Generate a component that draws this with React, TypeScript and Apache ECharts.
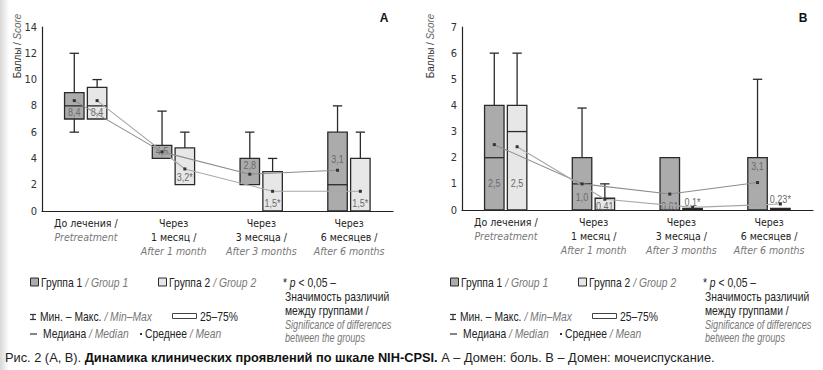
import React, { useEffect, useRef } from "react";
import * as echarts from "echarts";

// ---------- DATA ----------
const categoryRu: string[][] = [["До лечения /"], ["Через", "1 месяц /"], ["Через", "3 месяца /"], ["Через", "6 месяцев /"]];
const categoryEn: string[] = ["Pretreatment", "After 1 month", "After 3 months", "After 6 months"];

const ticksA: number[] = [0, 2, 4, 6, 8, 10, 12, 14];
const ticksB: number[] = [0, 1, 2, 3, 4, 5, 6, 7];

// [min, q1, median, q3, max]
const boxA_G1: number[][] = [[6, 7, 8, 9, 12], [4, 4, 4, 5, 7.6], [2, 2, 2, 4, 6], [0, 0, 2, 6, 8]];
const boxA_G2: number[][] = [[7, 7, 8, 9.4, 10], [2, 2, 2, 4.8, 6], [0, 0, 0, 3, 4], [0, 0, 0, 4, 6]];
const boxB_G1: number[][] = [[0, 0, 2, 4, 6], [0, 0, 1, 2, 3.9], [0, 0, 0, 2, 2], [0, 0, 0, 2, 5]];
const boxB_G2: number[][] = [[0, 0, 3, 4, 6], [0, 0, 0, 0.45, 1], [0, 0, 0, 0.06, 0.06], [0, 0, 0, 0.06, 0.06]];

const meanA_G1: number[] = [8.4, 4.5, 2.8, 3.1];
const meanA_G2: number[] = [8.4, 3.2, 1.5, 1.5];
const meanB_G1: number[] = [2.5, 1.0, 0.61, 1.05];
const meanB_G2: number[] = [2.42, 0.41, 0.1, 0.23];

const labelA_G1: string[] = ["8,4", "4,5", "2,8", "3,1"];
const labelA_G2: string[] = ["8,4", "3,2*", "1,5*", "1,5*"];
const labelB_G1: string[] = ["2,5", "1,0", "0,61", "3,1"];
const labelB_G2: string[] = ["2,5", "0,41", "0,1*", "0,23*"];

// where each value label sits (in score units)
const anchorA_G1: number[] = [7.5, 4.55, 3.45, 3.95];
const anchorA_G2: number[] = [7.5, 2.6, 0.6, 0.6];
const anchorB_G1: number[] = [1.03, 0.5, 0.15, 1.67];
const anchorB_G2: number[] = [1.03, 0.15, 0.3, 0.42];

// ---------- STYLE ----------
const COND = '"DejaVu Sans Condensed", "Liberation Sans Narrow", Arial, sans-serif';
const REG = '"Liberation Sans", Arial, sans-serif';
const NARROW_SCALE = 0.86;
const FILL_G1 = "#ababab";
const FILL_G2 = "#e7e7e7";
const EDGE = "#2a2a2a";
const OFF1 = -0.132;
const OFF2 = 0.128;
const BOX_W = 0.222;

function boxRender(labels: string[], anchors: number[], fill: string) {
  return (params: any, api: any) => {
    const x = api.value(0);
    const mn = api.value(1), q1 = api.value(2), md = api.value(3), q3 = api.value(4), mx = api.value(5);
    const idx = params.dataIndex;
    const c = api.coord([x, mn]);
    const cx = c[0];
    const yMin = c[1];
    const yQ1 = api.coord([x, q1])[1];
    const yMd = api.coord([x, md])[1];
    const yQ3 = api.coord([x, q3])[1];
    const yMax = api.coord([x, mx])[1];
    const w = api.size([BOX_W, 0])[0];
    const cap = w * 0.24;
    const ls = { stroke: EDGE, lineWidth: 1.3 };
    const children: any[] = [];
    if (mx > q3) {
      children.push({ type: "line", shape: { x1: cx, y1: yQ3, x2: cx, y2: yMax }, style: ls });
      children.push({ type: "line", shape: { x1: cx - cap, y1: yMax, x2: cx + cap, y2: yMax }, style: ls });
    }
    if (mn < q1) {
      children.push({ type: "line", shape: { x1: cx, y1: yQ1, x2: cx, y2: yMin }, style: ls });
      children.push({ type: "line", shape: { x1: cx - cap, y1: yMin, x2: cx + cap, y2: yMin }, style: ls });
    }
    const h = yQ1 - yQ3;
    children.push({
      type: "rect",
      shape: { x: cx - w / 2, y: yQ3, width: w, height: h },
      style: { fill: h < 3 ? "#111" : fill, stroke: EDGE, lineWidth: 1.3 },
    });
    if (md > q1 && md < q3) {
      children.push({ type: "line", shape: { x1: cx - w / 2, y1: yMd, x2: cx + w / 2, y2: yMd }, style: ls });
    }
    const ya = api.coord([x, anchors[idx]])[1];
    children.push({
      type: "text",
      x: cx,
      y: ya,
      scaleX: NARROW_SCALE,
      style: {
        text: labels[idx],
        fill: "#6a6a6a",
        fontSize: 10.5,
        fontFamily: REG,
        align: "center",
        verticalAlign: "middle",
        textAlign: "center",
        textVerticalAlign: "middle",
      },
      z2: 10,
    });
    return { type: "group", children };
  };
}

function catFormatter(_v: string, i: number) {
  const ru = categoryRu[i].map((s) => `{a|${s}}`).join("\n");
  return `${ru}\n{b|${categoryEn[i]}}`;
}

function legend(ox: number) {
  const rich = {
    a: { fontSize: 12, fontFamily: REG, fill: "#222" },
    b: { fontSize: 12, fontFamily: REG, fill: "#777", fontStyle: "italic" },
    i: { fontSize: 12, fontFamily: REG, fill: "#222", fontStyle: "italic" },
  };
  const t = (x: number, y: number, text: string, sx: number = NARROW_SCALE) => ({
    type: "text",
    x: x + ox,
    y,
    scaleX: sx,
    style: {
      text,
      rich,
      fill: "#222",
      fontSize: 12,
      fontFamily: REG,
      align: "left",
      verticalAlign: "middle",
      textAlign: "left",
      textVerticalAlign: "middle",
    },
  });
  const ln = (x1: number, y1: number, x2: number, y2: number) => ({
    type: "line",
    shape: { x1: x1 + ox, y1, x2: x2 + ox, y2 },
    style: { stroke: "#333", lineWidth: 1.2 },
  });
  return [
    { type: "rect", shape: { x: 30.5 + ox, y: 278, width: 8, height: 8 }, style: { fill: FILL_G1, stroke: EDGE, lineWidth: 1 } },
    t(41, 282.5, "{a|Группа 1 }{b|/ Group 1}"),
    { type: "rect", shape: { x: 158.5 + ox, y: 278, width: 8, height: 8 }, style: { fill: FILL_G2, stroke: EDGE, lineWidth: 1 } },
    t(169, 282.5, "{a|Группа 2 }{b|/ Group 2}"),
    t(283, 282.5, "{a|* }{i|p}{a| < 0,05 –}"),
    t(285, 297, "{a|Значимость различий}"),
    t(285, 310.5, "{a|между группами /}"),
    t(285, 324, "{b|Significance of differences}", 0.76),
    t(285, 337.5, "{b|between the groups}", 0.76),
    ln(30, 314.5, 36, 314.5),
    ln(30, 319.5, 36, 319.5),
    ln(33, 314.5, 33, 319.5),
    t(40, 317, "{a|Мин. – Макс. }{b|/ Min–Max}"),
    { type: "rect", shape: { x: 172.5 + ox, y: 313.5, width: 24, height: 5 }, style: { fill: "#fff", stroke: "#444", lineWidth: 1 } },
    t(200, 317, "{a|25–75%}"),
    ln(30, 334, 37, 334),
    t(43, 334, "{a|Медиана }{b|/ Median}"),
    { type: "rect", shape: { x: 140 + ox, y: 333, width: 2, height: 2 }, style: { fill: "#333" } },
    t(145, 334, "{a|Среднее }{b|/ Mean}"),
  ];
}

function yName(x: number) {
  return {
    type: "text",
    x,
    y: 46,
    rotation: Math.PI / 2,
    scaleX: NARROW_SCALE,
    style: {
      text: "{a|Баллы / }{b|Score}",
      rich: {
        a: { fontSize: 11.5, fontFamily: REG, fill: "#333" },
        b: { fontSize: 11.5, fontFamily: REG, fill: "#666", fontStyle: "italic" },
      },
      align: "center",
      verticalAlign: "middle",
      textAlign: "center",
      textVerticalAlign: "middle",
    },
  };
}

export default function App() {
  const ref = useRef<HTMLDivElement>(null);
  useEffect(() => {
    if (!ref.current) return;
    const chart = echarts.init(ref.current, null, { renderer: "svg" });
    const grids = [
      { left: 42, top: 27, width: 351, height: 184 },
      { left: 462, top: 27, width: 351, height: 183 },
    ];
    const catAxis = (gi: number) => ({
      type: "category",
      gridIndex: gi,
      data: categoryEn,
      boundaryGap: true,
      axisLine: { lineStyle: { color: "#222", width: 1.2 } },
      axisTick: { show: false },
      axisLabel: {
        interval: 0,
        margin: 5,
        formatter: catFormatter,
        rich: {
          a: { fontSize: 10.5, fontFamily: COND, color: "#222", lineHeight: 14 },
          b: { fontSize: 10.5, fontFamily: COND, color: "#777", fontStyle: "italic", lineHeight: 14 },
        },
      },
    });
    const valAxis = (gi: number) => ({
      type: "value",
      gridIndex: gi,
      min: -0.5,
      max: 3.5,
      show: false,
    });
    const yAxis = (gi: number, ticks: number[]) => ({
      type: "value",
      gridIndex: gi,
      min: ticks[0],
      max: ticks[ticks.length - 1],
      interval: ticks[1] - ticks[0],
      axisLine: { show: true, onZero: false, lineStyle: { color: "#222", width: 1.2 } },
      axisTick: { show: false },
      splitLine: { show: false },
      axisLabel: { fontSize: 11, fontFamily: COND, color: "#333", margin: 5 },
    });
    const boxSeries = (xi: number, yi: number, boxes: number[][], off: number, labels: string[], anchors: number[], fill: string) => ({
      type: "custom",
      xAxisIndex: xi,
      yAxisIndex: yi,
      data: boxes.map((b, i) => [i + off, ...b]),
      encode: { x: 0, y: [1, 2, 3, 4, 5] },
      renderItem: boxRender(labels, anchors, fill),
      z: 2,
    });
    const meanSeries = (xi: number, yi: number, means: number[], off: number, color: string) => ({
      type: "line",
      xAxisIndex: xi,
      yAxisIndex: yi,
      data: means.map((m, i) => [i + off, m]),
      symbol: "rect",
      symbolSize: 3,
      itemStyle: { color: "#333" },
      lineStyle: { color, width: 1.1 },
      z: 5,
      silent: true,
    });
    chart.setOption({
      animation: false,
      backgroundColor: "#fff",
      grid: grids,
      xAxis: [catAxis(0), catAxis(1), valAxis(0), valAxis(1)],
      yAxis: [yAxis(0, ticksA), yAxis(1, ticksB)],
      series: [
        boxSeries(2, 0, boxA_G1, OFF1, labelA_G1, anchorA_G1, FILL_G1),
        boxSeries(2, 0, boxA_G2, OFF2, labelA_G2, anchorA_G2, FILL_G2),
        boxSeries(3, 1, boxB_G1, OFF1, labelB_G1, anchorB_G1, FILL_G1),
        boxSeries(3, 1, boxB_G2, OFF2, labelB_G2, anchorB_G2, FILL_G2),
        meanSeries(2, 0, meanA_G1, OFF1, "#8c8c8c"),
        meanSeries(2, 0, meanA_G2, OFF2, "#a8a8a8"),
        meanSeries(3, 1, meanB_G1, OFF1, "#8c8c8c"),
        meanSeries(3, 1, meanB_G2, OFF2, "#a8a8a8"),
      ],
      graphic: [
        {
          type: "rect",
          shape: { x: 0, y: 0, width: 9, height: 370 },
          style: {
            fill: new echarts.graphic.LinearGradient(0, 0, 1, 0, [
              { offset: 0, color: "#d8d8d8" },
              { offset: 1, color: "#ffffff" },
            ]),
          },
          z: -10,
        },
        yName(17),
        yName(430),
        { type: "text", x: 384, y: 18, style: { text: "A", fontSize: 12, fontWeight: "bold", fontFamily: REG, fill: "#111", align: "center", verticalAlign: "middle", textAlign: "center", textVerticalAlign: "middle" } },
        { type: "text", x: 803, y: 18, style: { text: "B", fontSize: 12, fontWeight: "bold", fontFamily: REG, fill: "#111", align: "center", verticalAlign: "middle", textAlign: "center", textVerticalAlign: "middle" } },
        ...legend(0),
        ...legend(420),
        {
          type: "text",
          x: 5,
          y: 357,
          style: {
            text: "{r|Рис. 2 (А, В). }{b|Динамика клинических проявлений по шкале NIH-CPSI.}{r| А – Домен: боль. В – Домен: мочеиспускание.}",
            rich: {
              r: { fontSize: 12.8, fontFamily: REG, fill: "#222" },
              b: { fontSize: 12.8, fontFamily: REG, fill: "#111", fontWeight: "bold" },
            },
            align: "left",
            verticalAlign: "middle",
            textAlign: "left",
            textVerticalAlign: "middle",
          },
        },
      ],
    });
    return () => chart.dispose();
  }, []);
  return <div ref={ref} style={{ position: "absolute", left: 0, top: 0, width: 823, height: 370 }} />;
}
